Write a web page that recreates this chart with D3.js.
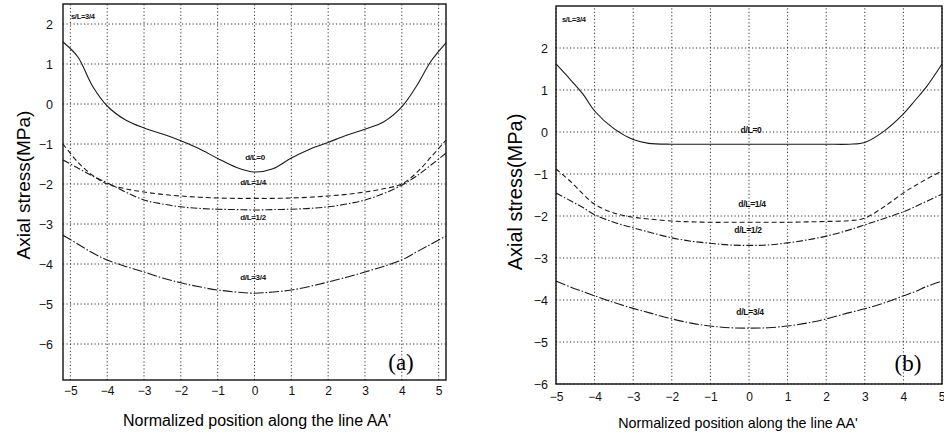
<!DOCTYPE html>
<html>
<head>
<meta charset="utf-8">
<script src="https://cdn.jsdelivr.net/npm/d3@7"></script>
<style>
  body { margin: 0; background: #fff; }
  svg { display: block; font-family: 'Liberation Sans', Arial, sans-serif; }
  .tick text { fill: #111; }
  .dlabel { font-weight: bold; font-size: 8px; letter-spacing: -0.3px; fill: #111; }
</style>
</head>
<body>
<div id="chart"></div>
<script>
// Data
const seriesNames = ['d/L=0', 'd/L=1/4', 'd/L=1/2', 'd/L=3/4'];
const xTicks = [-5, -4, -3, -2, -1, 0, 1, 2, 3, 4, 5];
const yTicks = [-6, -5, -4, -3, -2, -1, 0, 1, 2];

// panel (a)
const posA = [-5.2, -4.8, -4.4, -4, -3.5, -3, -2.5, -2, -1.5, -1, -0.5, 0, 0.5, 1, 1.5, 2, 2.5, 3, 3.5, 4, 4.4, 4.8, 5.2];
const a0 = [1.55, 1.18, 0.45, -0.05, -0.4, -0.6, -0.75, -0.92, -1.12, -1.36, -1.58, -1.7, -1.62, -1.35, -1.13, -0.96, -0.78, -0.63, -0.45, -0.07, 0.45, 1.08, 1.53];
const a14 = [-1.0, -1.45, -1.78, -2.0, -2.12, -2.2, -2.26, -2.3, -2.33, -2.35, -2.36, -2.36, -2.36, -2.35, -2.33, -2.3, -2.26, -2.2, -2.12, -2.0, -1.72, -1.32, -0.9];
const a12 = [-1.4, -1.6, -1.8, -1.97, -2.2, -2.4, -2.5, -2.57, -2.61, -2.63, -2.64, -2.65, -2.64, -2.63, -2.61, -2.57, -2.5, -2.4, -2.24, -2.03, -1.8, -1.52, -1.23];
const a34 = [-3.28, -3.5, -3.72, -3.9, -4.06, -4.2, -4.35, -4.47, -4.57, -4.65, -4.7, -4.73, -4.7, -4.65, -4.56, -4.45, -4.33, -4.2, -4.06, -3.9, -3.7, -3.5, -3.3];

// panel (b)
const posB = [-5, -4.6, -4.3, -4, -3.5, -3, -2.6, -2, -1.5, -1, -0.5, 0, 0.5, 1, 1.5, 2, 2.6, 3, 3.5, 4, 4.3, 4.6, 5];
const b0 = [1.62, 1.22, 0.9, 0.5, 0.08, -0.18, -0.27, -0.29, -0.29, -0.29, -0.29, -0.29, -0.29, -0.29, -0.29, -0.29, -0.29, -0.25, 0.02, 0.43, 0.75, 1.08, 1.62];
const b14 = [-0.88, -1.2, -1.48, -1.72, -1.93, -2.03, -2.07, -2.12, -2.14, -2.15, -2.15, -2.15, -2.15, -2.15, -2.14, -2.13, -2.11, -2.05, -1.78, -1.45, -1.28, -1.12, -0.93];
const b12 = [-1.45, -1.65, -1.8, -1.97, -2.15, -2.28, -2.38, -2.52, -2.6, -2.65, -2.69, -2.7, -2.69, -2.64, -2.57, -2.48, -2.33, -2.21, -2.06, -1.9, -1.78, -1.65, -1.48];
const b34 = [-3.55, -3.7, -3.8, -3.9, -4.06, -4.2, -4.3, -4.45, -4.55, -4.62, -4.66, -4.67, -4.66, -4.62, -4.55, -4.45, -4.3, -4.21, -4.07, -3.9, -3.8, -3.68, -3.55];

const width = 944;
const height = 438;

const dashes = ['none', '5,3', '7,2,1.5,2', '10,2,1.5,2'];

const svg = d3
  .select('#chart')
  .append('svg')
  .attr('width', width)
  .attr('height', height);

const panels = [
  {
    pos: posA, values: [a0, a14, a12, a34], tag: '(a)',
    xDomain: [-5.2, 5.2], xRange: [63, 446],
    yDomain: [-6.9, 2.5], yRange: [380, 4],
    yPad: 10, xPad: 6, xTitleSize: 16, yTitleSize: 19,
    yTitle: [30, 185], xTitle: [257, 426], tagPos: [401, 370], slPos: [71, 19],
    labels: [[255, 157], [253, 182], [253, 217], [253, 277]], labelSize: 8
  },
  {
    pos: posB, values: [b0, b14, b12, b34], tag: '(b)',
    xDomain: [-5, 5], xRange: [556, 942],
    yDomain: [-6, 3], yRange: [384, 6],
    yPad: 8, xPad: 8, xTitleSize: 14.3, yTitleSize: 20,
    yTitle: [522, 192], xTitle: [738, 428], tagPos: [908, 371], slPos: [562, 22],
    labels: [[751, 130], [752, 204], [748, 230], [750, 312]], labelSize: 8.5
  }
];

panels.forEach((p) => {
  const x = d3.scaleLinear(p.xDomain, p.xRange);
  const y = d3.scaleLinear(p.yDomain, p.yRange);
  const g = svg.append('g');

  // grid
  g.append('g')
    .selectAll('line')
    .data(xTicks)
    .join('line')
    .attr('x1', (d) => x(d))
    .attr('x2', (d) => x(d))
    .attr('y1', p.yRange[0])
    .attr('y2', p.yRange[1])
    .attr('stroke', '#333')
    .attr('stroke-width', 1)
    .attr('stroke-dasharray', '1.2,2.3');
  g.append('g')
    .selectAll('line')
    .data(yTicks)
    .join('line')
    .attr('x1', p.xRange[0])
    .attr('x2', p.xRange[1])
    .attr('y1', (d) => y(d))
    .attr('y2', (d) => y(d))
    .attr('stroke', '#333')
    .attr('stroke-width', 1)
    .attr('stroke-dasharray', '1.2,2.3');

  // axes
  g.append('g')
    .attr('transform', `translate(0, ${p.yRange[0]})`)
    .call(d3.axisBottom(x).tickValues(xTicks).tickSize(0).tickPadding(p.xPad).tickFormat(d3.format('d')))
    .call((a) => a.select('.domain').remove())
    .selectAll('text')
    .style('font-size', '12px')
    // keep the last label inside the window
    .filter((d) => x(d) > width - 6)
    .attr('text-anchor', 'end')
    .attr('dx', '3px');
  g.append('g')
    .attr('transform', `translate(${p.xRange[0]}, 0)`)
    .call(d3.axisLeft(y).tickValues(yTicks).tickSize(0).tickPadding(p.yPad).tickFormat(d3.format('d')))
    .call((a) => a.select('.domain').remove())
    .selectAll('text')
    .style('font-size', '12.5px');

  // curves
  const line = d3
    .line()
    .x((d) => x(d[0]))
    .y((d) => y(d[1]))
    .curve(d3.curveCatmullRom.alpha(0.5));

  g.append('g')
    .selectAll('path')
    .data(p.values)
    .join('path')
    .attr('d', (vals) => line(p.pos.map((v, i) => [v, vals[i]])))
    .attr('fill', 'none')
    .attr('stroke', '#1a1a1a')
    .attr('stroke-width', 1.1)
    .attr('stroke-dasharray', (d, i) => dashes[i]);

  // frame
  g.append('rect')
    .attr('x', p.xRange[0])
    .attr('y', p.yRange[1])
    .attr('width', p.xRange[1] - p.xRange[0])
    .attr('height', p.yRange[0] - p.yRange[1])
    .attr('fill', 'none')
    .attr('stroke', '#111')
    .attr('stroke-width', 1.4);

  // curve labels
  g.append('g')
    .selectAll('text')
    .data(seriesNames)
    .join('text')
    .attr('class', 'dlabel')
    .attr('x', (d, i) => p.labels[i][0])
    .attr('y', (d, i) => p.labels[i][1])
    .attr('dy', '0.35em')
    .attr('text-anchor', 'middle')
    .style('font-size', `${p.labelSize}px`)
    .text((d) => d);

  g.append('text')
    .attr('class', 'dlabel')
    .attr('x', p.slPos[0])
    .attr('y', p.slPos[1])
    .style('font-size', '7.5px')
    .text('s/L=3/4');

  g.append('text')
    .attr('x', p.tagPos[0])
    .attr('y', p.tagPos[1])
    .attr('text-anchor', 'middle')
    .style('font-family', "'Liberation Serif', 'Times New Roman', serif")
    .style('font-size', '23px')
    .text(p.tag);

  // axis names
  g.append('text')
    .attr('x', p.xTitle[0])
    .attr('y', p.xTitle[1])
    .attr('text-anchor', 'middle')
    .style('font-size', `${p.xTitleSize}px`)
    .text("Normalized position along the line AA'");
  g.append('text')
    .attr('transform', `translate(${p.yTitle[0]}, ${p.yTitle[1]}) rotate(-90)`)
    .attr('text-anchor', 'middle')
    .style('font-size', `${p.yTitleSize}px`)
    .text('Axial stress(MPa)');
});
</script>
</body>
</html>
